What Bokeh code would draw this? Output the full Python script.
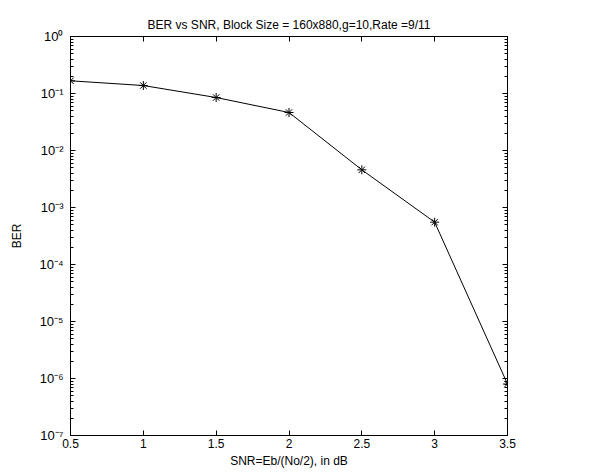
from bokeh.plotting import figure
from bokeh.models import FixedTicker, LinearAxis, LogAxis, Range1d, Title
from bokeh.embed import file_html
from bokeh.resources import INLINE

snr = [0.5, 1.0, 1.5, 2.0, 2.5, 3.0, 3.5]
ber = [0.167, 0.138, 0.085, 0.0464, 0.00458, 0.000553, 8.0e-7]

x_ticks = [0.5, 1.0, 1.5, 2.0, 2.5, 3.0, 3.5]
x_labels = ["0.5", "1", "1.5", "2", "2.5", "3", "3.5"]
y_exps = [-7, -6, -5, -4, -3, -2, -1, 0]
sup = {"-": "\u207b", "0": "\u2070", "1": "\u00b9", "2": "\u00b2", "3": "\u00b3",
       "4": "\u2074", "5": "\u2075", "6": "\u2076", "7": "\u2077"}
y_ticks = [10.0 ** e for e in y_exps]
y_labels = {10.0 ** e: "10" + "".join(sup[c] for c in str(e)) for e in y_exps}
y_minor = [k * 10.0 ** e for e in y_exps[:-1] for k in range(2, 10)]

FONT = "Liberation Sans"

p = figure(frame_width=437, frame_height=399, y_axis_type="log",
           x_range=Range1d(0.5, 3.5), y_range=Range1d(1e-7, 1.0),
           output_backend="svg", toolbar_location=None,
           min_border_left=70, min_border_right=79, min_border_top=36, min_border_bottom=0)

p.title = Title(text="BER vs SNR, Block Size = 160x880,g=10,Rate =9/11", align="center",
                text_font=FONT, text_font_size="12px", text_font_style="normal",
                text_color="black", offset=0, standoff=9)

p.line(snr, ber, line_color="black", line_width=1)
p.scatter(snr, ber, marker="asterisk", size=9, line_color="black", line_width=1)

p.xgrid.visible = False
p.ygrid.visible = False
p.outline_line_color = "black"
p.outline_line_alpha = 1.0
p.background_fill_color = "white"
p.border_fill_color = "white"

xt = FixedTicker(ticks=x_ticks)
yt = FixedTicker(ticks=y_ticks, minor_ticks=y_minor)


def style(ax, labels=True):
    ax.axis_line_color = "black"
    ax.major_tick_line_color = "black"
    ax.minor_tick_line_color = "black"
    ax.major_tick_in = 5
    ax.major_tick_out = 0
    ax.minor_tick_in = 3
    ax.minor_tick_out = 0
    ax.major_label_text_font = FONT
    ax.major_label_text_font_size = "12px"
    ax.major_label_text_color = "black" if labels else None
    ax.axis_label_text_font = FONT
    ax.axis_label_text_font_size = "12px"
    ax.axis_label_text_font_style = "normal"
    ax.axis_label_text_color = "black"


xa = p.xaxis[0]
xa.ticker = xt
xa.major_label_overrides = {v: s for v, s in zip(x_ticks, x_labels)}
xa.axis_label = "SNR=Eb/(No/2), in dB"
style(xa)
xa.minor_tick_in = 0
xa.major_label_standoff = 3
xa.axis_label_standoff = 3

ya = p.yaxis[0]
ya.ticker = yt
ya.major_label_overrides = y_labels
ya.axis_label = "BER"
style(ya)
ya.major_label_text_font_size = "13px"
ya.major_label_standoff = 7
ya.axis_label_standoff = 12

top = LinearAxis(ticker=xt)
style(top, labels=False)
top.minor_tick_in = 0
top.major_label_text_font_size = "0px"
top.major_label_standoff = 0
p.add_layout(top, "above")

right = LogAxis(ticker=yt)
style(right, labels=False)
right.major_label_text_font_size = "0px"
right.major_label_standoff = 0
p.add_layout(right, "right")

open("out.html", "w").write(file_html(p, INLINE))
